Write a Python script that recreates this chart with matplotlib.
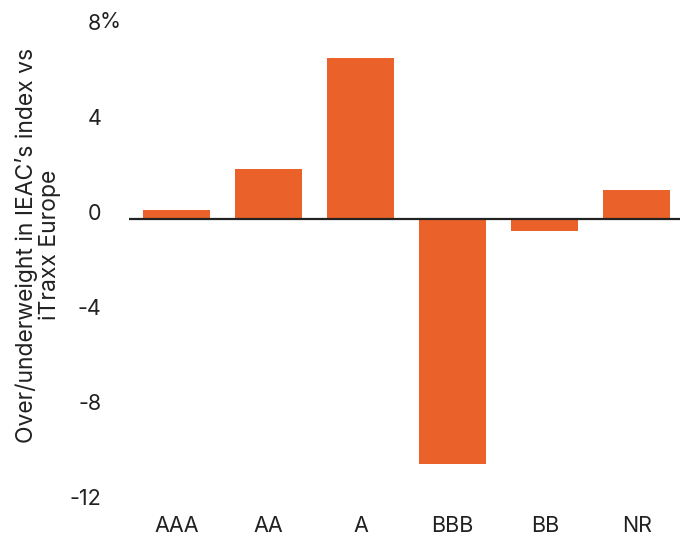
import matplotlib
matplotlib.use("Agg")
import matplotlib.pyplot as plt
import matplotlib.transforms as mtransforms

categories = ["AAA", "AA", "A", "BBB", "BB", "NR"]
values = [0.38, 2.1, 6.75, -10.3, -0.5, 1.2]
yticks = [8, 4, 0, -4, -8, -12]
ytick_labels = ["8", "4", "0", "-4", "-8", "-12"]

plt.rcParams['font.family'] = ['Inter', 'DejaVu Sans']
txt = "#222222"
bar_color = "#EA6129"
fs = 15.5

fig = plt.figure(figsize=(6.8, 5.37), dpi=100)
ax = fig.add_axes([129/680, 1-509/537, (680-129)/680, (509-24)/537])

x = list(range(len(categories)))
ax.bar(x, values, width=0.73, color=bar_color, zorder=2)
ax.axhline(0, color=txt, lw=1.6, zorder=3)

ax.set_xlim(-0.52, 5.47)
ax.set_ylim(-12.2, 8.2)
ax.set_xticks(x)
ax.set_xticklabels(categories, fontsize=fs, color=txt)
ax.set_yticks(yticks)
ax.set_yticklabels(ytick_labels, fontsize=fs, color=txt)
ax.tick_params(axis='both', length=0)
ax.tick_params(axis='y', pad=20)
ax.tick_params(axis='x', pad=5)
for s in ax.spines.values():
    s.set_visible(False)

off = mtransforms.ScaledTranslation(0, 5/72, fig.dpi_scale_trans)
for lab in ax.get_yticklabels():
    lab.set_transform(lab.get_transform() + off)

# percent sign after the top tick label
ax.annotate("%", xy=(0, 8), xycoords=('axes fraction', 'data'),
            xytext=(-21, 5), textcoords='offset points',
            ha='left', va='center', fontsize=fs, color=txt)

fig.text(38/680, 1-245/537, "Over/underweight in IEAC\u2019s index vs\niTraxx Europe",
         rotation=90, ha='center', va='center', multialignment='center',
         fontsize=16.5, color=txt, linespacing=1.05)

fig.savefig("out.png", dpi=100)
